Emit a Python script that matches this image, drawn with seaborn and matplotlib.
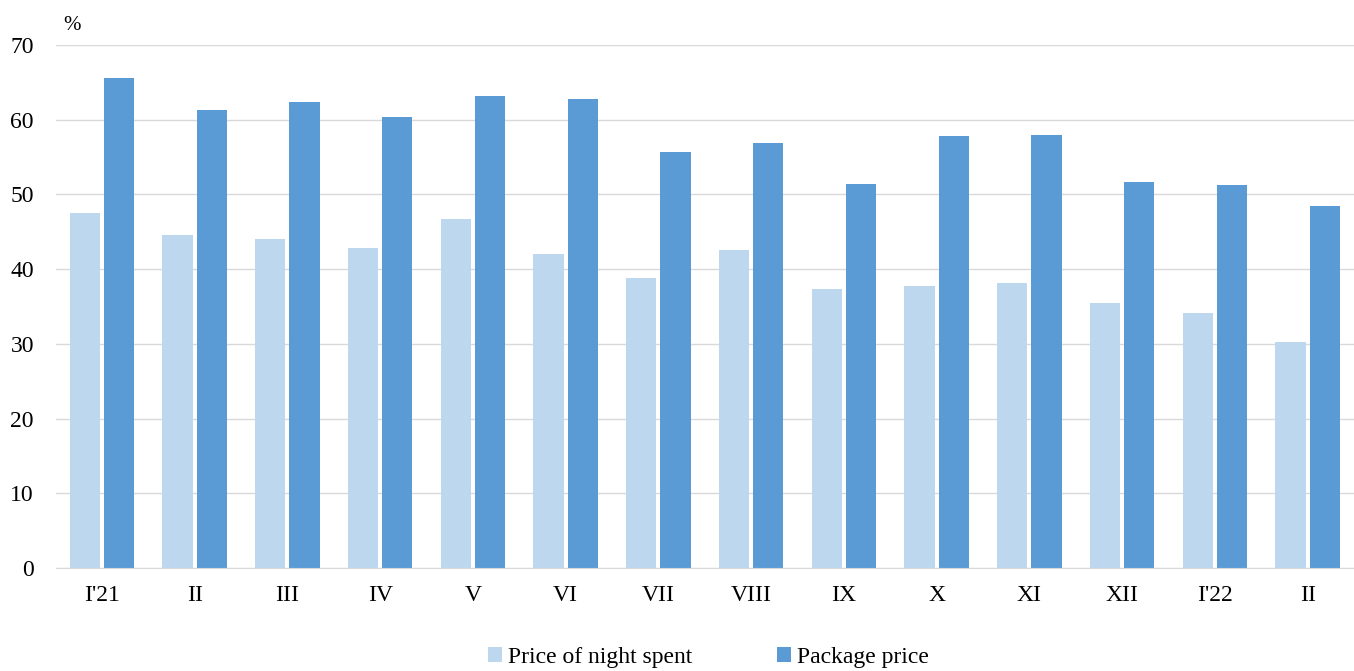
import pandas as pd
import matplotlib.pyplot as plt
import seaborn as sns

months = ["I'21", "II", "III", "IV", "V", "VI", "VII", "VIII", "IX", "X", "XI", "XII", "I'22", "II "]
night_price = [47.5, 44.6, 44.0, 42.8, 46.7, 42.0, 38.8, 42.5, 37.4, 37.7, 38.1, 35.5, 34.1, 30.3]
package_price = [65.6, 61.3, 62.4, 60.4, 63.2, 62.8, 55.7, 56.9, 51.4, 57.8, 58.0, 51.7, 51.3, 48.5]
series_names = ["Price of night spent", "Package price"]
colors = ["#bdd7ee", "#5b9bd5"]

df = pd.concat([
    pd.DataFrame({"Month": months, "Value": night_price, "Series": series_names[0]}),
    pd.DataFrame({"Month": months, "Value": package_price, "Series": series_names[1]}),
], ignore_index=True)

sns.set_style("white")
plt.rcParams['font.family'] = ['Liberation Serif', 'DejaVu Serif']
plt.rcParams['text.color'] = 'black'

fig = plt.figure(figsize=(13.54, 6.71), dpi=100)
ax = fig.add_axes([0.041, 0.1535, 0.959, 0.7795])

sns.barplot(data=df, x="Month", y="Value", hue="Series", palette=colors,
            saturation=1, width=0.74, gap=0.12, linewidth=0, edgecolor="none",
            ax=ax, legend=True)

ax.set_ylim(0, 70)
ax.set_xlim(-0.5, len(months) - 0.5)
ax.set_yticks(range(0, 71, 10))
ax.yaxis.grid(True, color="#d9d9d9", linewidth=1)
ax.set_axisbelow(True)
for s in ["top", "right", "left"]:
    ax.spines[s].set_visible(False)
ax.spines["bottom"].set_color("#d9d9d9")
ax.tick_params(axis="both", length=0, labelsize=17, colors="black")
ax.tick_params(axis="x", pad=12)
ax.tick_params(axis="y", pad=15.5)
ax.set_xlabel("")
ax.set_ylabel("")
ax.set_xticks(range(len(months)))
ax.set_xticklabels([m.strip() for m in months])

fig.text(0.047, 0.962, "%", fontsize=15, ha="left", va="center", color="black")

handles, labels = ax.get_legend_handles_labels()
ax.get_legend().remove()
leg = fig.legend(handles, labels, loc="center", bbox_to_anchor=(0.523, 0.02), ncol=2,
                 frameon=False, fontsize=17, handlelength=0.6, handleheight=0.6,
                 handletextpad=0.25, columnspacing=3.6)
for t in leg.get_texts():
    t.set_color("black")

fig.savefig("out.png", dpi=100)
